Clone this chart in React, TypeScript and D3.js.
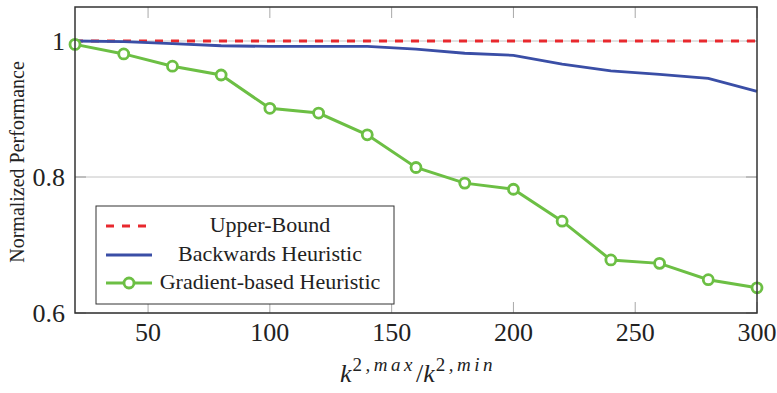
import { scaleLinear, line } from 'd3'

// k2max / k2min ratios on the x axis
const ratios = [20, 40, 60, 80, 100, 120, 140, 160, 180, 200, 220, 240, 260, 280, 300]
const upperBound = [1, 1, 1, 1, 1, 1, 1, 1, 1, 1, 1, 1, 1, 1, 1]
const backwards = [1.0, 0.999, 0.996, 0.993, 0.992, 0.992, 0.992, 0.988, 0.982, 0.979, 0.966, 0.956, 0.951, 0.945, 0.926]
const gradient = [0.995, 0.981, 0.963, 0.95, 0.901, 0.894, 0.862, 0.814, 0.791, 0.782, 0.735, 0.678, 0.673, 0.649, 0.637]

const xTicks = [50, 100, 150, 200, 250, 300]
const yTicks = [0.6, 0.8, 1]
const legendLabels = ['Upper-Bound', 'Backwards Heuristic', 'Gradient-based Heuristic']

const W = 777
const H = 393
const margin = { left: 75, right: 20, top: 7, bottom: 80 }

const RED = '#e8292e'
const BLUE = '#3a4ea6'
const GREEN = '#6cbf44'
const FONT = "'Liberation Serif', 'DejaVu Serif', serif"

const App = () => {
  const x = scaleLinear().domain([20, 300]).range([margin.left, W - margin.right])
  const y = scaleLinear().domain([0.6, 1.05]).range([H - margin.bottom, margin.top])

  const mk = (vals: number[]) =>
    line<number>().x((d, i) => x(ratios[i])).y(d => y(d))(vals) || ''

  const x0 = x(20), x1 = x(300), y0 = y(0.6), y1 = y(1.05)
  const tickLen = 11

  // legend box
  const lg = { x: 96, y: 206, w: 298, h: 98 }
  const rowY = [226, 255, 283]

  const sup = { fontSize: 19, letterSpacing: 3.5 }

  return (
    <svg width={W} height={H} style={{ position: 'absolute', left: 0, top: 0, background: '#fff', fontFamily: FONT }}>
      {/* horizontal grid */}
      {yTicks.map(t => (
        <line key={'g' + t} x1={x0} x2={x1} y1={y(t)} y2={y(t)} stroke="#c4c4c4" strokeWidth={1} />
      ))}
      {/* y ticks left/right */}
      {yTicks.map(t => (
        <g key={'yt' + t} stroke="#9a9a9a" strokeWidth={1}>
          <line x1={x0} x2={x0 + tickLen} y1={y(t)} y2={y(t)} />
          <line x1={x1} x2={x1 - tickLen} y1={y(t)} y2={y(t)} />
        </g>
      ))}
      {/* x ticks bottom/top */}
      {xTicks.map(t => (
        <g key={'xt' + t} stroke="#a8a8a8" strokeWidth={1}>
          <line x1={x(t)} x2={x(t)} y1={y0} y2={y0 - tickLen} />
          <line x1={x(t)} x2={x(t)} y1={y1} y2={y1 + tickLen} />
        </g>
      ))}

      {/* series */}
      <path d={mk(upperBound)} fill="none" stroke={RED} strokeWidth={3} strokeDasharray="8 8" />
      <path d={mk(backwards)} fill="none" stroke={BLUE} strokeWidth={2.8} />
      <path d={mk(gradient)} fill="none" stroke={GREEN} strokeWidth={3} />
      {gradient.map((v, i) => (
        <circle key={'m' + i} cx={x(ratios[i])} cy={y(v)} r={5} fill="#fff" stroke={GREEN} strokeWidth={2.8} />
      ))}

      {/* frame */}
      <rect x={x0} y={y1} width={x1 - x0} height={y0 - y1} fill="none" stroke="#333" strokeWidth={1.5} />

      {/* tick labels */}
      {xTicks.map(t => (
        <text key={'xl' + t} x={x(t)} y={341} textAnchor="middle" fontSize={26} fill="#222">{t}</text>
      ))}
      {yTicks.map(t => (
        <text key={'yl' + t} x={65} y={y(t) + 9} textAnchor="end" fontSize={26} fill="#222">{t}</text>
      ))}

      {/* axis titles */}
      <text x={(x0 + x1) / 2 + 2} y={382} textAnchor="middle" fontSize={26} fill="#222">
        <tspan fontStyle="italic">k</tspan>
        <tspan {...sup} dy={-11} dx={1}>2</tspan>
        <tspan {...sup} fontStyle="italic">,max</tspan>
        <tspan dy={11} dx={0}>/</tspan>
        <tspan fontStyle="italic">k</tspan>
        <tspan {...sup} dy={-11} dx={1}>2</tspan>
        <tspan {...sup} fontStyle="italic">,min</tspan>
      </text>
      <text transform={`translate(24,${(y0 + y1) / 2 + 2}) rotate(-90)`} textAnchor="middle" fontSize={20} fill="#222">
        Normalized Performance
      </text>

      {/* legend */}
      <rect x={lg.x} y={lg.y} width={lg.w} height={lg.h} fill="#fff" stroke="#333" strokeWidth={1} />
      <line x1={106} x2={152} y1={rowY[0]} y2={rowY[0]} stroke={RED} strokeWidth={3} strokeDasharray="8 8" />
      <line x1={106} x2={152} y1={rowY[1]} y2={rowY[1]} stroke={BLUE} strokeWidth={2.8} />
      <line x1={106} x2={152} y1={rowY[2]} y2={rowY[2]} stroke={GREEN} strokeWidth={3} />
      <circle cx={129} cy={rowY[2]} r={5} fill="#fff" stroke={GREEN} strokeWidth={2.8} />
      {legendLabels.map((l, i) => (
        <text key={l} x={270} y={rowY[i] + 6} textAnchor="middle" fontSize={22} fill="#222">{l}</text>
      ))}
    </svg>
  )
}

export default App
